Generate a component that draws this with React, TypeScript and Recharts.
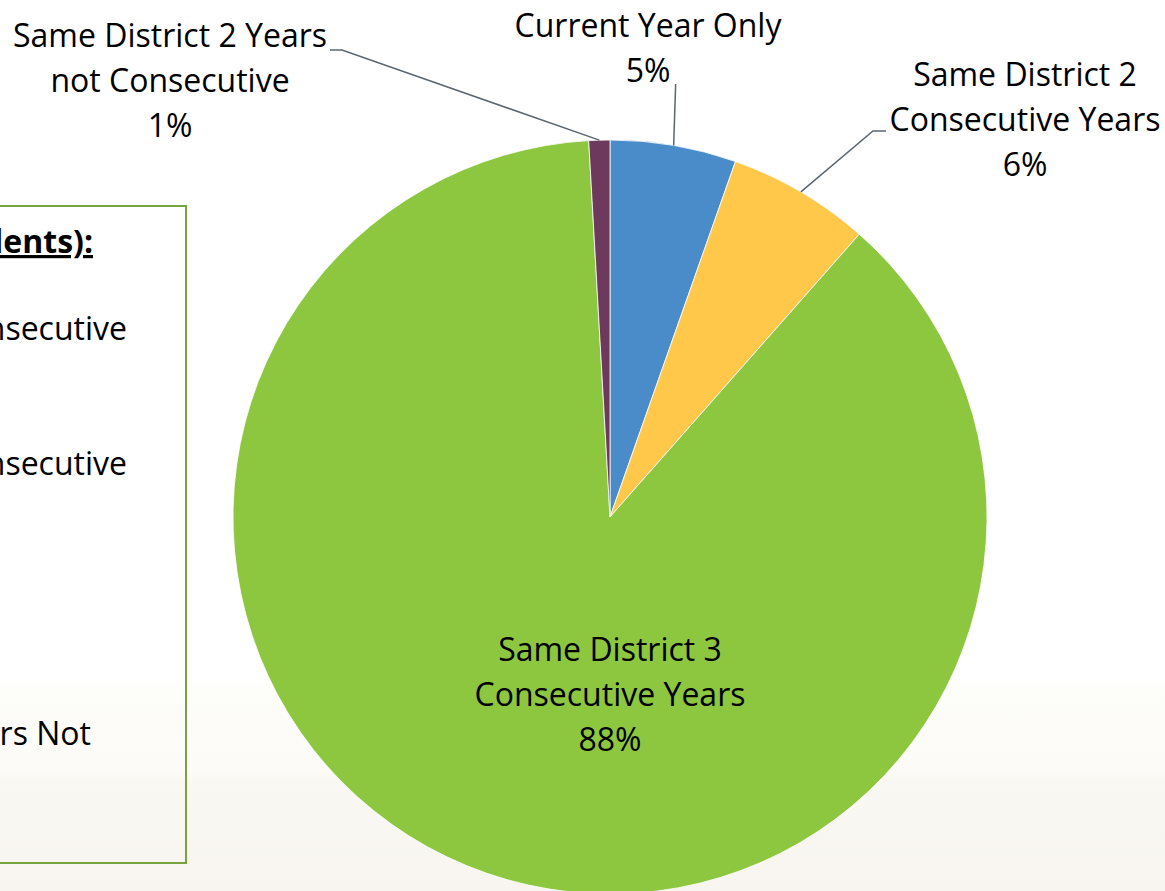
import { PieChart, Pie, Cell } from 'recharts'

const categories = [
  'Current Year Only',
  'Same District 2 Consecutive Years',
  'Same District 3 Consecutive Years',
  'Same District 2 Years not Consecutive',
]
const shares = [5.4, 6.1, 87.6, 0.9]
const labelLines = [
  ['Current Year Only'],
  ['Same District 2', 'Consecutive Years'],
  ['Same District 3', 'Consecutive Years'],
  ['Same District 2 Years', 'not Consecutive'],
]
const colors = ['#4a8cc9', '#ffc84b', '#8dc63f', '#6d3a5d']

const data = categories.map((name, i) => ({ name, value: shares[i] }))

const W = 1165
const H = 891
const FONT = '"Open Sans", sans-serif'
const FS = 32
const LINE_H = 45
const RAD = Math.PI / 180

// where each label block sits (text centre x, first baseline y) and its leader elbow
const labelLayout = [
  { x: 648, y: 37, elbow: null as null | number[][], lineTop: 84 },
  { x: 1025, y: 86, elbow: [[873, 131], [886, 131]], lineTop: 0 },
  { x: 610, y: 661, elbow: null, lineTop: 0 },
  { x: 170, y: 47, elbow: [[342, 50], [330, 50]], lineTop: 0 },
]

function renderLabel(props: any) {
  const { cx, cy, midAngle, outerRadius, index, percent } = props
  const lay = labelLayout[index]
  const px = cx + outerRadius * Math.cos(-midAngle * RAD)
  const py = cy + outerRadius * Math.sin(-midAngle * RAD)
  const lines = [...labelLines[index], `${Math.round(percent * 100)}%`]
  let leader = null
  if (lay.elbow) {
    const pts = [[px, py], ...lay.elbow].map((p) => p.join(',')).join(' ')
    leader = <polyline points={pts} fill="none" stroke="#5b6670" strokeWidth={1.5} />
  } else if (lay.lineTop) {
    leader = <line x1={px} y1={py} x2={px + 2} y2={lay.lineTop} stroke="#5b6670" strokeWidth={1.5} />
  }
  return (
    <g key={`lbl-${index}`}>
      {leader}
      <text x={lay.x} y={lay.y} textAnchor="middle" fontFamily={FONT} fontSize={FS} fill="#000">
        {lines.map((t, i) => (
          <tspan key={i} x={lay.x} y={lay.y + i * LINE_H}>
            {t}
          </tspan>
        ))}
      </text>
    </g>
  )
}

export default function App() {
  return (
    <div
      style={{
        position: 'absolute',
        left: 0,
        top: 0,
        width: W,
        height: H,
        overflow: 'hidden',
        background:
          'linear-gradient(to bottom, #ffffff 0px, #ffffff 680px, #fdfdf9 690px, #fcfbf7 770px, #faf8f3 780px, #f8f5f0 891px)',
      }}
    >
      <svg width={W} height={H} style={{ position: 'absolute', left: 0, top: 0 }}>
        <rect x={-20} y={206} width={206} height={657} fill="none" stroke="#77a43f" strokeWidth={2} />
        <g fontFamily={FONT} fontSize={FS} fill="#000" textAnchor="end">
          <text x={93} y={253} fontWeight="bold" textDecoration="underline">
            Students):
          </text>
          <text x={127} y={340}>Consecutive</text>
          <text x={127} y={475}>Consecutive</text>
          <text x={2} y={598}>Years,</text>
          <text x={91} y={745}>Years Not</text>
        </g>
      </svg>
      <div style={{ position: 'absolute', left: 0, top: 0 }}>
        <PieChart width={W} height={H} margin={{ top: 0, right: 0, bottom: 0, left: 0 }}>
          <Pie
            data={data}
            dataKey="value"
            nameKey="name"
            cx={610}
            cy={517}
            outerRadius={377}
            startAngle={90}
            endAngle={-270}
            stroke="#ffffff"
            strokeWidth={0.8}
            label={renderLabel}
            labelLine={false}
            isAnimationActive={false}
          >
            {data.map((d, i) => (
              <Cell key={d.name} fill={colors[i]} />
            ))}
          </Pie>
        </PieChart>
      </div>
    </div>
  )
}
